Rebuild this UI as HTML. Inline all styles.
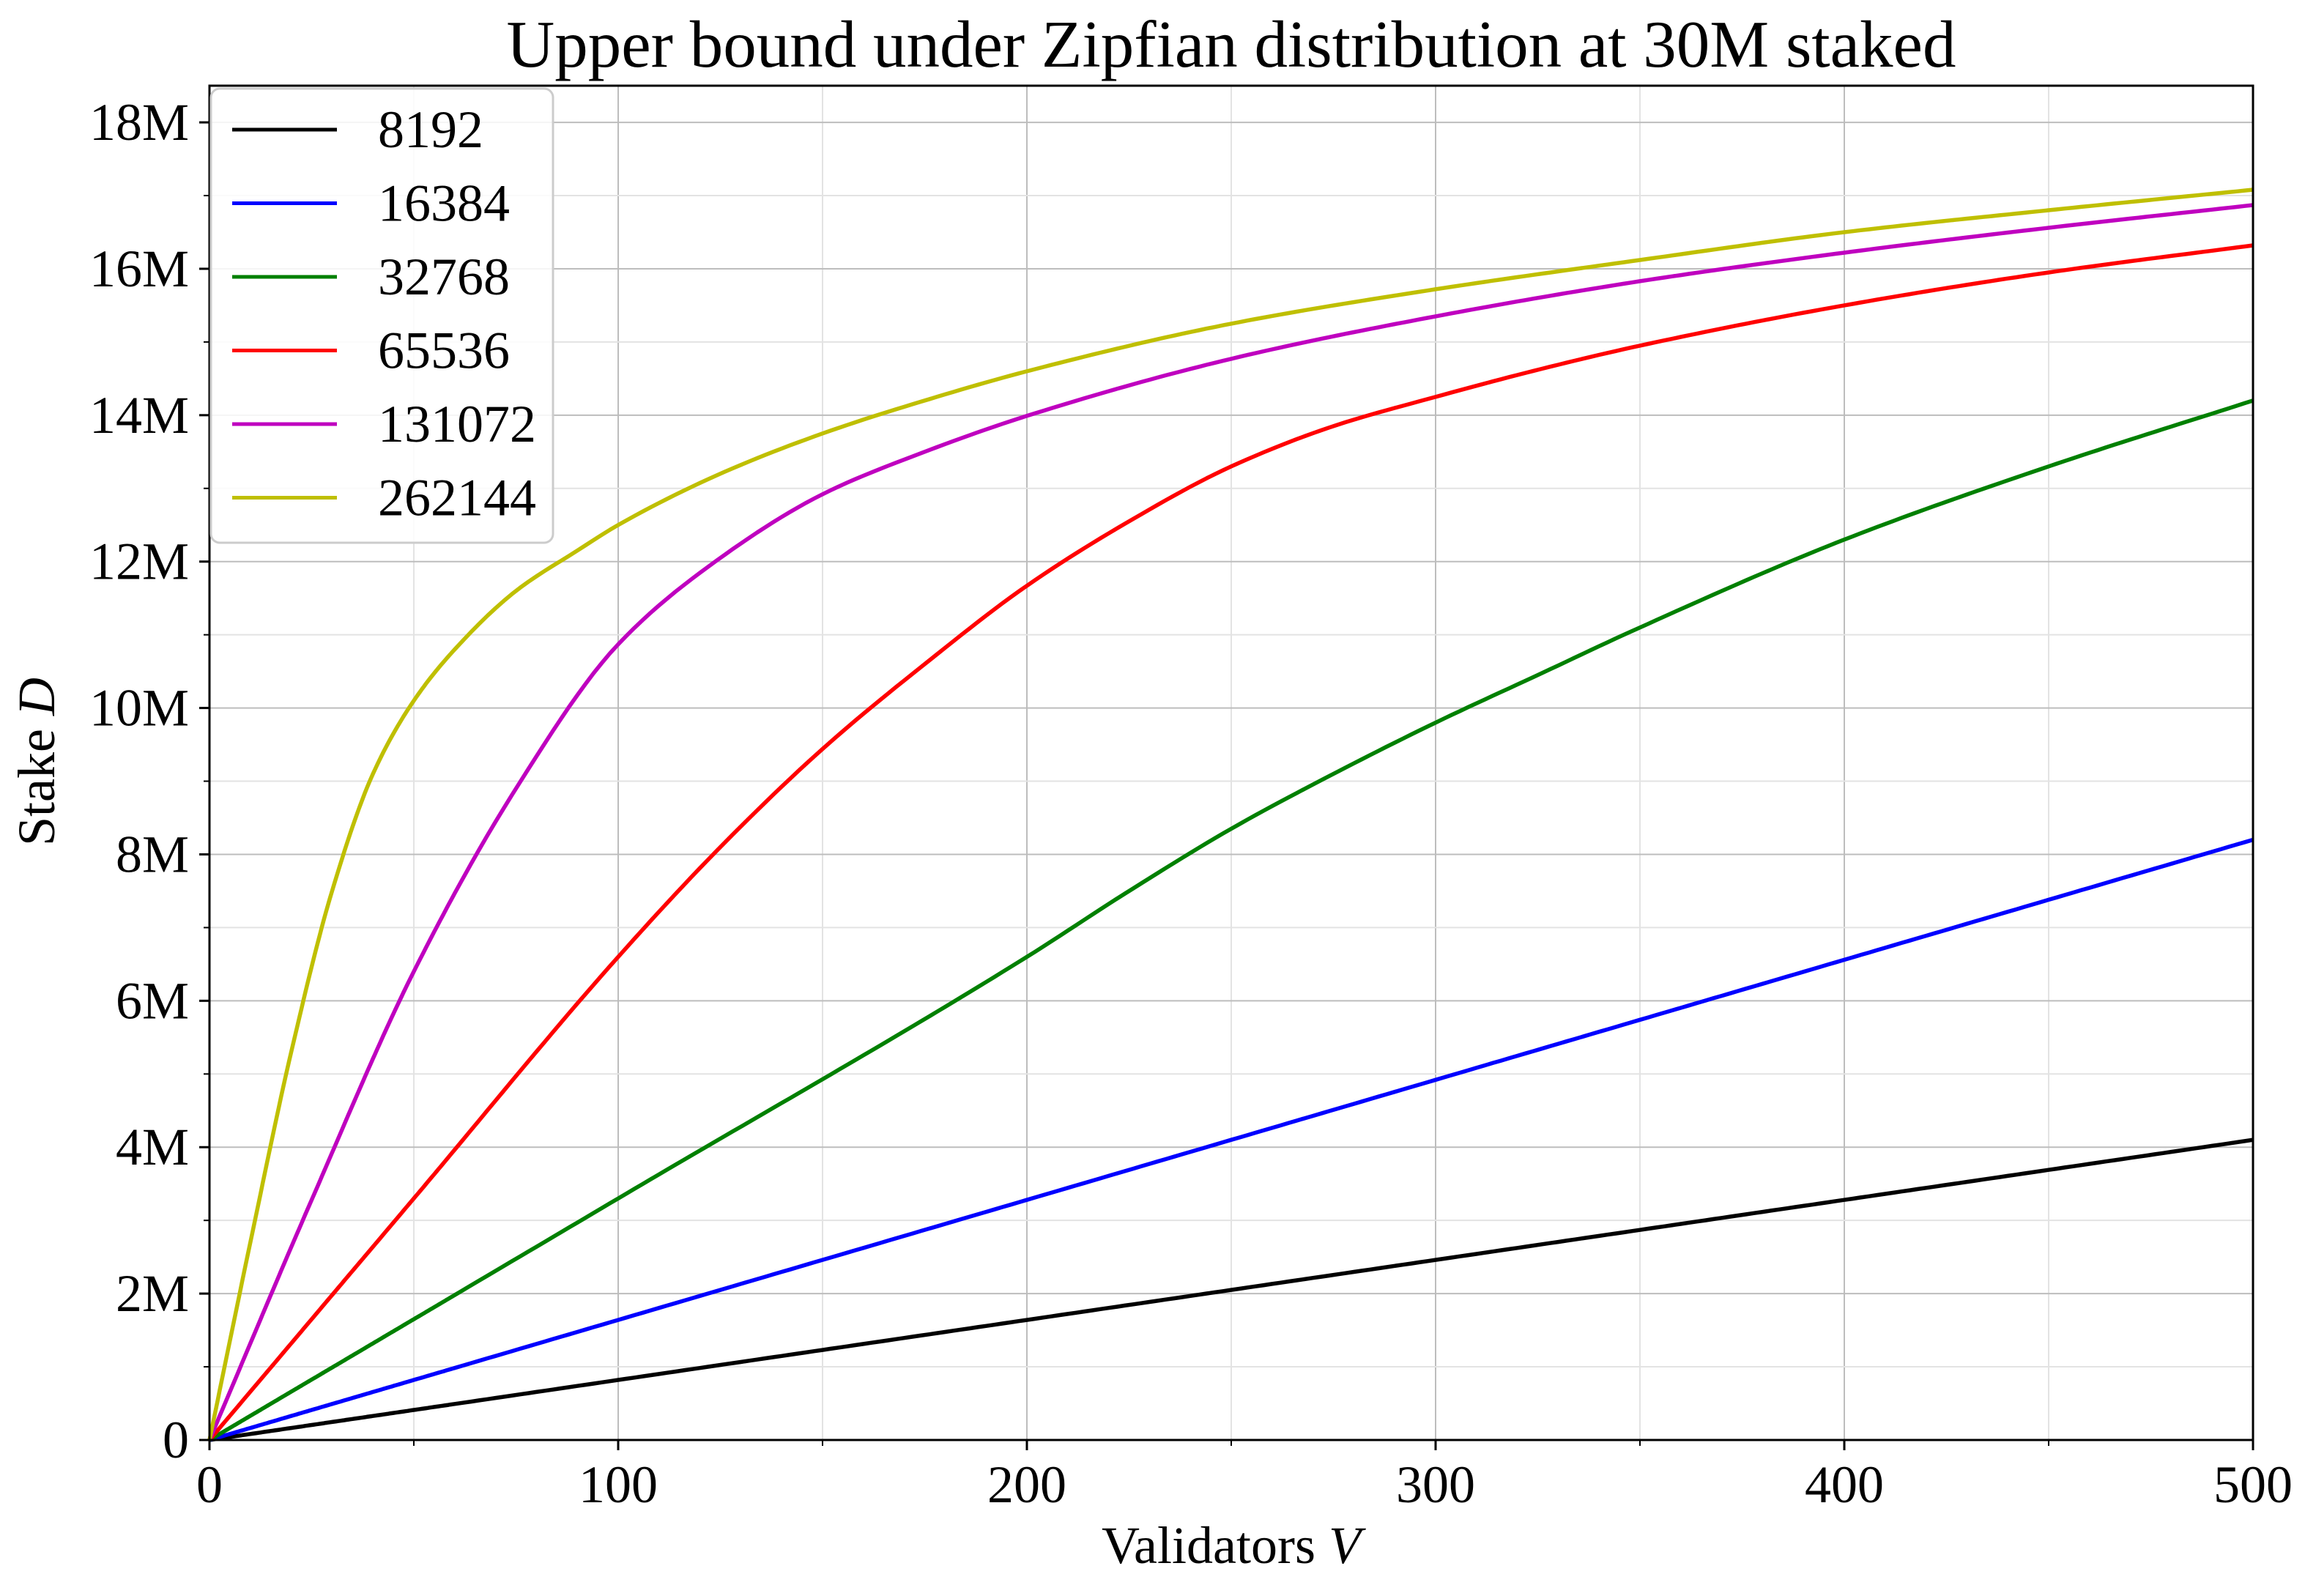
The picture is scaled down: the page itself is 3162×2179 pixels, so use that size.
<!DOCTYPE html>
<html><head><meta charset="utf-8"><style>
html,body{margin:0;padding:0;background:#fff;}
svg{display:block;}
text{font-family:"Liberation Serif","DejaVu Serif",serif;fill:#000;}
</style></head><body>
<svg id="s" width="3162" height="2179" viewBox="0 0 3162 2179" xmlns="http://www.w3.org/2000/svg">
<rect width="3162" height="2179" fill="#fff"/>
<g id="grid"></g>
<g id="curves" fill="none" stroke-width="5.5" stroke-linejoin="round"></g>
<rect x="286" y="117" width="2790" height="1849" fill="none" stroke="#000" stroke-width="3"/>
<g id="ticks" stroke="#000"></g>
<g id="labels" font-size="72"></g>
<text x="1681" y="91" font-size="91" text-anchor="middle">Upper bound under Zipfian distribution at 30M staked</text>
<text x="1681" y="2134" font-size="72" text-anchor="middle">Validators <tspan font-style="italic">V</tspan></text>
<text transform="translate(74,1040) rotate(-90)" font-size="72" text-anchor="middle">Stake <tspan font-style="italic">D</tspan></text>
<rect x="288" y="121" width="467" height="620" rx="12" fill="#fff" fill-opacity="0.85" stroke="#ccc" stroke-width="3"/>
<g id="legend" font-size="72"></g>
</svg>
<script>
var NS="http://www.w3.org/2000/svg";
function X(v){return 286+v*5.58;}
function Y(d){return 1966-d*99.94;}
function el(p,t,a,txt){var e=document.createElementNS(NS,t);for(var k in a)e.setAttribute(k,a[k]);if(txt!==undefined)e.textContent=txt;document.getElementById(p).appendChild(e);return e;}
for(var v=0;v<=500;v+=50){var maj=v%100==0;
 el("grid","line",{x1:X(v),x2:X(v),y1:117,y2:1966,stroke:maj?"#bdbdbd":"#e3e3e3","stroke-width":2});
 el("ticks","line",{x1:X(v),x2:X(v),y1:1966,y2:1966+(maj?14:8),"stroke-width":maj?3:2});
 if(maj)el("labels","text",{x:X(v),y:2051,"text-anchor":"middle"},String(v));}
for(var d=0;d<=18;d+=1){var maj=d%2==0;
 el("grid","line",{x1:286,x2:3076,y1:Y(d),y2:Y(d),stroke:maj?"#bdbdbd":"#e3e3e3","stroke-width":2});
 el("ticks","line",{x1:286-(maj?14:8),x2:286,y1:Y(d),y2:Y(d),"stroke-width":maj?3:2});
 if(maj)el("labels","text",{x:258,y:Y(d)+24,"text-anchor":"end"},d==0?"0":d+"M");}
var S=[
["#000",[[0,0],[500,4.1]]],
["#00f",[[0,0],[500,8.2]]],
["#008000",[[0,0],[100,3.3],[200,6.6],[225,7.5],[250,8.35],[275,9.1],[300,9.8],[325,10.45],[350,11.1],[400,12.3],[450,13.3],[500,14.2]]],
["#f00",[[0,0],[50,3.3],[100,6.6],[125,8.1],[150,9.44],[175,10.6],[200,11.67],[225,12.55],[250,13.3],[275,13.85],[300,14.25],[325,14.62],[350,14.95],[400,15.5],[450,15.95],[500,16.32]]],
["#bf00bf",[[0,0],[25,3.28],[50,6.4],[75,8.9],[100,10.87],[125,12.05],[150,12.92],[175,13.5],[200,13.99],[250,14.77],[300,15.35],[350,15.83],[400,16.22],[450,16.56],[500,16.87]]],
["#bfbf00",[[0,0],[10,2.7],[20,5.3],[30,7.5],[40,9.1],[50,10.1],[60,10.8],[75,11.6],[90,12.15],[100,12.5],[125,13.2],[150,13.75],[175,14.2],[200,14.6],[250,15.25],[300,15.72],[350,16.12],[400,16.5],[450,16.8],[500,17.08]]]];
var names=["8192","16384","32768","65536","131072","262144"];
function mono(pts){var n=pts.length,xs=pts.map(function(p){return p[0]}),ys=pts.map(function(p){return p[1]});
 if(n==2)return function(x){return ys[0]+(ys[1]-ys[0])*(x-xs[0])/(xs[1]-xs[0]);};
 var dl=[],m=[];for(var i=0;i<n-1;i++)dl.push((ys[i+1]-ys[i])/(xs[i+1]-xs[i]));
 m[0]=dl[0];m[n-1]=dl[n-2];
 for(var i=1;i<n-1;i++){if(dl[i-1]*dl[i]<=0)m[i]=0;else{var w1=2*(xs[i+1]-xs[i])+(xs[i]-xs[i-1]),w2=(xs[i+1]-xs[i])+2*(xs[i]-xs[i-1]);m[i]=(w1+w2)/(w1/dl[i-1]+w2/dl[i]);}}
 return function(x){var i=0;while(i<n-2&&x>xs[i+1])i++;var h=xs[i+1]-xs[i],t=(x-xs[i])/h,t2=t*t,t3=t2*t;
  return (2*t3-3*t2+1)*ys[i]+(t3-2*t2+t)*h*m[i]+(-2*t3+3*t2)*ys[i+1]+(t3-t2)*h*m[i+1];};}
S.forEach(function(s,i){var f=mono(s[1]);var pts=[];
 for(var v=0;v<=500;v+=(v<60?0.5:2))pts.push(X(v).toFixed(1)+","+Y(f(v)).toFixed(1));
 el("curves","polyline",{points:pts.join(" "),stroke:s[0]});
 var y=177+i*100.5;
 el("legend","line",{x1:317,x2:460,y1:y,y2:y,stroke:s[0],"stroke-width":5});
 el("legend","text",{x:516,y:y+24},names[i]);});
</script>
</body></html>
